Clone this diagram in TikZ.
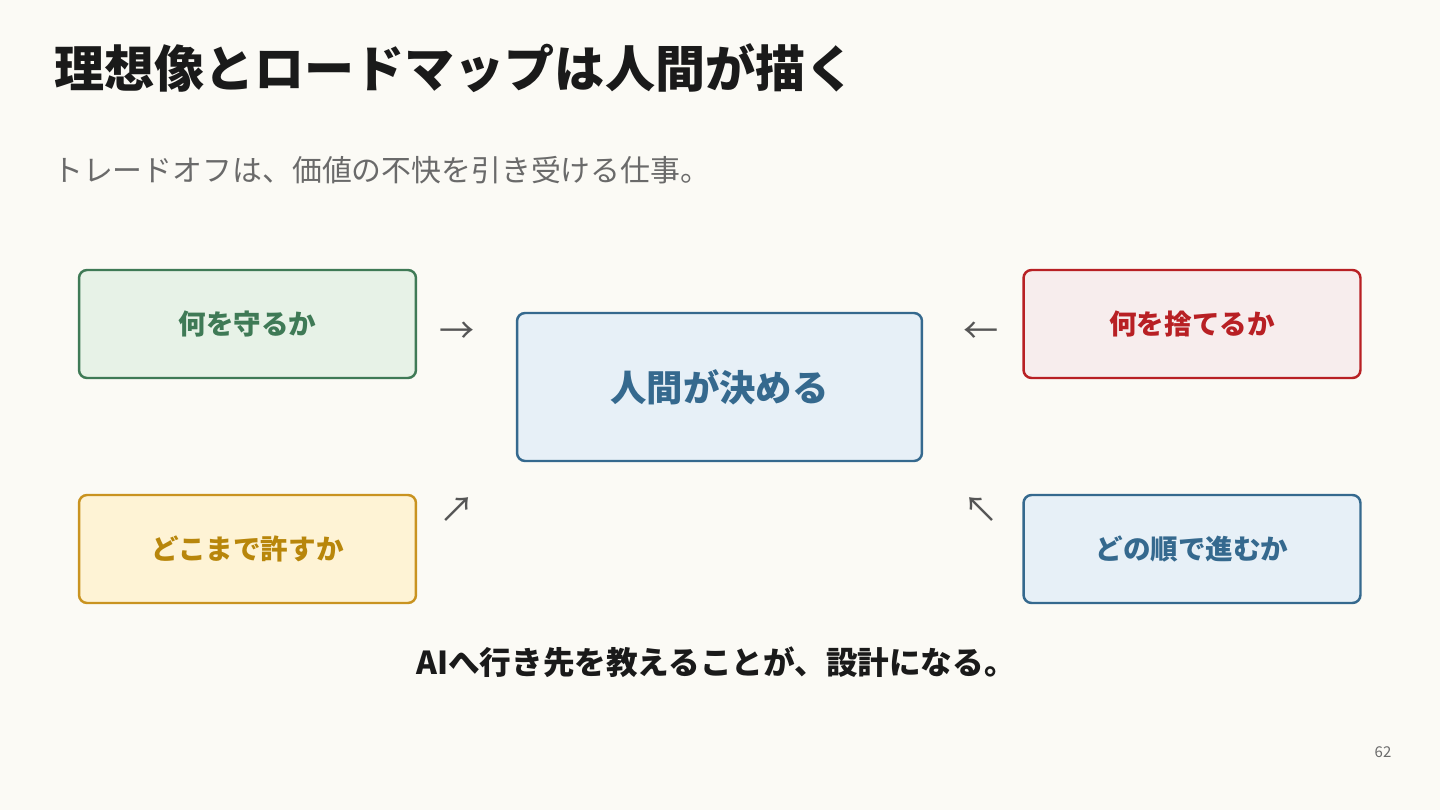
\documentclass[tikz,border=0pt]{standalone}
\usepackage{fontspec}
\setmainfont{Noto Sans CJK JP}
\usetikzlibrary{positioning}

\definecolor{bg}{HTML}{FBFAF5}
\definecolor{ink}{HTML}{1A1A1A}
\definecolor{subink}{HTML}{6A6A6A}
\definecolor{arrowink}{HTML}{555555}
\definecolor{greenline}{HTML}{3F7A56}
\definecolor{greenfill}{HTML}{E7F2E7}
\definecolor{redline}{HTML}{B82024}
\definecolor{redfill}{HTML}{F7EDED}
\definecolor{yellowline}{HTML}{C99320}
\definecolor{yellowtext}{HTML}{B8860B}
\definecolor{yellowfill}{HTML}{FEF3D5}
\definecolor{blueline}{HTML}{35698E}
\definecolor{bluefill}{HTML}{E7F0F7}

\tikzset{
  box/.style={draw, line width=1.4pt, rounded corners=0.16cm, minimum width=6.74cm, minimum height=2.16cm, font=\fontsize{15.7}{18}\selectfont\bfseries},
  mark arrow/.style={text=arrowink, font=\fontsize{20}{22}\selectfont}
}

\begin{document}
\begin{tikzpicture}[x=0.02cm, y=-0.02cm]
\useasboundingbox[fill=bg] (0,0) rectangle (1440,810);

\node[anchor=west, text=ink, font=\fontsize{28.5}{32}\selectfont\bfseries] (title) at (48,68) {理想像とロードマップは人間が描く};
\node[anchor=west, text=subink, font=\fontsize{17}{20}\selectfont] (sub) at (47,170) {トレードオフは、価値の不快を引き受ける仕事。};

\node[box, draw=greenline, fill=greenfill, text=greenline] (keep) at (247.5,324) {何を守るか};
\node[box, draw=redline, fill=redfill, text=redline] (drop) at (1192,324) {何を捨てるか};
\node[box, draw=yellowline, fill=yellowfill, text=yellowtext] (allow) at (247.5,549) {どこまで許すか};
\node[box, draw=blueline, fill=bluefill, text=blueline] (order) at (1192,549) {どの順で進むか};

\node[draw=blueline, fill=bluefill, text=blueline, line width=1.4pt, rounded corners=0.16cm, minimum width=8.1cm, minimum height=2.96cm, font=\fontsize{20.7}{24}\selectfont\bfseries] (human) at (719.5,387) {人間が決める};

\node[mark arrow] (a1) at (457,333) {→};
\node[mark arrow] (a2) at (981,333) {←};
\node[mark arrow] (a3) at (457,510) {↗};
\node[mark arrow] (a4) at (981,510) {↖};

\node[text=ink, font=\fontsize{18}{22}\selectfont\bfseries] (bottom) at (716,662) {AIへ行き先を教えることが、設計になる。};
\node[text=subink, font=\fontsize{8.5}{10}\selectfont] (page) at (1383,752) {62};

\end{tikzpicture}
\end{document}
